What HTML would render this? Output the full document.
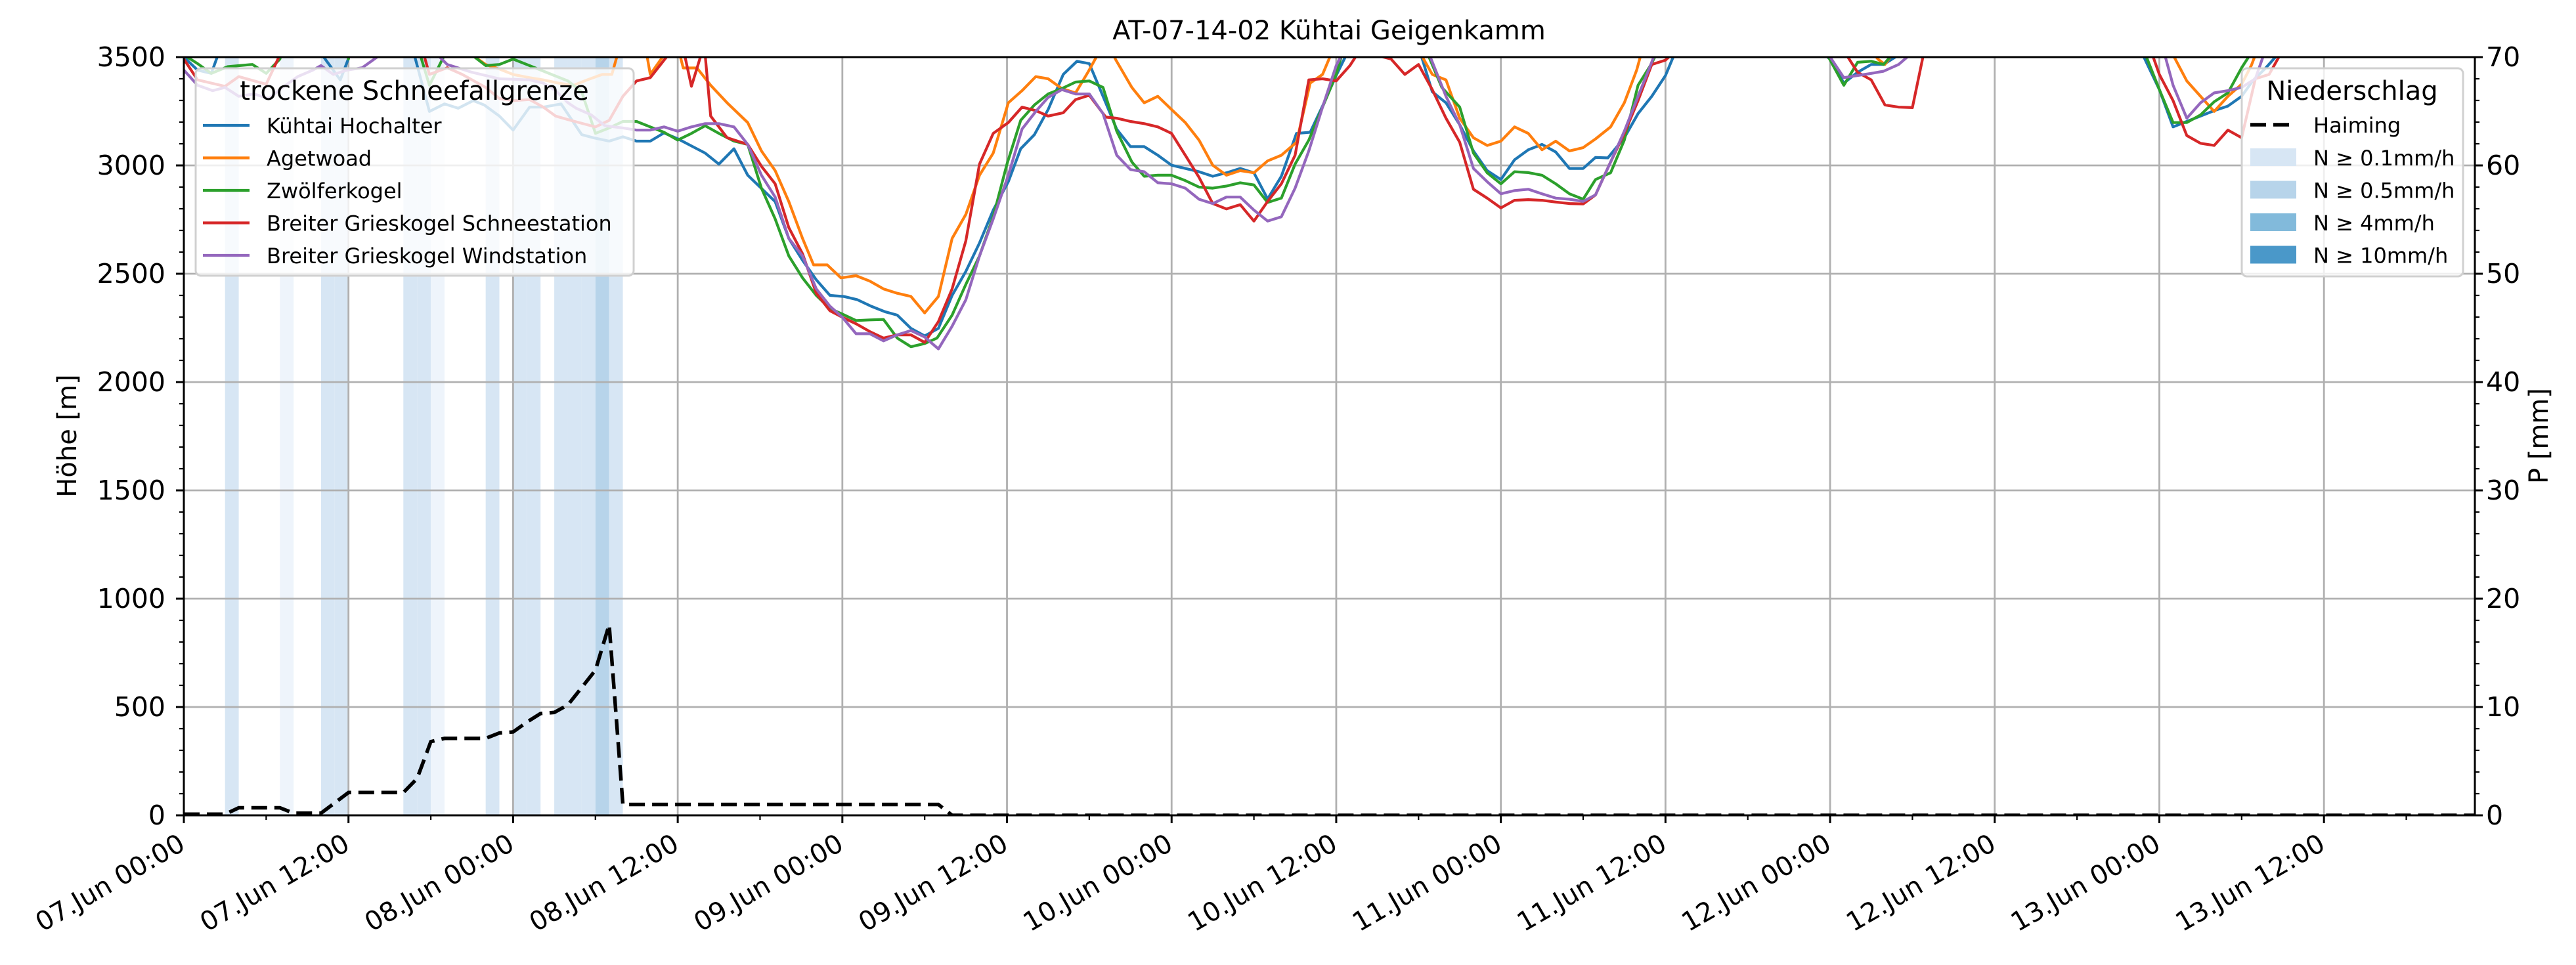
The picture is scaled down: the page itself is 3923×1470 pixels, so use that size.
<!DOCTYPE html>
<html><head><meta charset="utf-8"><style>
html,body{margin:0;padding:0;background:#fff;}
svg{display:block;font-family:"DejaVu Sans","Liberation Sans",sans-serif;}
</style></head><body>
<svg id="chart" width="3923" height="1470" viewBox="0 0 3923 1470" xmlns="http://www.w3.org/2000/svg">
<defs><clipPath id="plotclip"><rect x="280" y="87" width="3489" height="1155"/></clipPath></defs>
<text x="2024" y="60" font-size="40" text-anchor="middle">AT-07-14-02 Kühtai Geigenkamm</text>
<g id="bands" clip-path="url(#plotclip)"></g>
<g id="grid"></g>
<g id="series" clip-path="url(#plotclip)"></g>
<g id="axes"></g>
<g id="legends"></g>
</svg>
<script>
const hourTicks=[0,12,24,36,48,60,72,84,96,108,120,132,144,156];
const hourTickLabels=["07.Jun 00:00","07.Jun 12:00","08.Jun 00:00","08.Jun 12:00","09.Jun 00:00","09.Jun 12:00","10.Jun 00:00","10.Jun 12:00","11.Jun 00:00","11.Jun 12:00","12.Jun 00:00","12.Jun 12:00","13.Jun 00:00","13.Jun 12:00"];
const heightTicks=[0,500,1000,1500,2000,2500,3000,3500];
const precipTicks=[0,10,20,30,40,50,60,70];
const precipHour=[3,7,10,11,16,17,18,22,24,25,27,28,29,30,31];
const precipLevel=[1,0,1,1,1,1,0,1,1,1,1,1,1,2,1];
const kuehtai=[[0,3500],[1,3440],[2,3425],[3,3600],[10.2,3500],[11.4,3395],[12.1,3510],[13,3600],[16.8,3510],[17.9,3249],[19,3284],[20,3264],[21.1,3299],[21.9,3279],[23,3228],[24,3163],[25.2,3269],[26.2,3269],[27.5,3284],[29,3142],[29.9,3127],[31,3112],[32,3132],[33,3112],[34,3112],[35,3150],[36,3123],[37,3090],[38,3057],[39,3006],[40.1,3077],[41.1,2955],[43.1,2833],[44.1,2663],[45.1,2562],[46.1,2472],[47.1,2400],[48.1,2395],[49.1,2380],[50.1,2350],[51.1,2325],[52,2309],[53,2248],[54,2213],[55,2248],[56,2400],[57,2511],[58,2642],[59,2794],[60.1,2925],[61,3077],[62,3142],[63,3258],[64.1,3420],[65.1,3481],[66,3470],[67,3319],[68,3167],[69,3087],[70,3087],[71,3047],[72,3001],[73,2986],[74,2971],[75,2950],[76,2966],[77,2986],[78,2966],[79,2845],[80,2950],[81.1,3148],[82.1,3153],[83,3274],[84,3415],[84.7,3506],[86,3600],[89,3600],[90.2,3506],[91,3340],[92,3289],[93,3188],[94,3067],[95,2976],[96,2935],[97,3026],[98,3072],[99,3097],[100,3062],[101,2986],[102,2986],[102.9,3037],[103.8,3035],[105,3128],[106,3239],[107,3319],[108,3415],[108.6,3506],[110,3600],[118,3600],[120,3490],[121,3380],[122,3430],[123,3466],[123.9,3466],[125,3510],[126,3600],[140,3600],[142.8,3510],[144,3350],[145,3178],[146,3203],[147,3228],[148,3253],[149,3274],[150,3319],[150.8,3390],[151.7,3446],[152.6,3510],[154,3600],[166,3600]];
const agetwoad=[[0,3600],[20,3600],[21,3510],[22,3466],[23,3445],[24,3420],[25.2,3405],[26.2,3395],[27.3,3380],[28.4,3370],[29.4,3395],[30.5,3420],[31.2,3420],[31.6,3510],[32.7,3511],[33.5,3600],[34,3420],[35,3510],[35.8,3600],[36.4,3450],[37.4,3450],[38.4,3370],[39.6,3289],[41.1,3198],[42.1,3067],[43.1,2976],[44.1,2833],[45.1,2663],[45.9,2541],[46.9,2541],[47.9,2481],[49,2491],[50,2466],[51,2430],[52,2410],[53,2395],[54,2319],[55,2395],[56,2663],[57,2774],[58,2955],[59,3057],[60.1,3289],[61.1,3345],[62.1,3410],[63,3400],[64,3355],[65,3335],[65.9,3430],[66.6,3510],[67.2,3600],[67.9,3491],[69.1,3360],[70,3289],[71,3319],[72,3258],[73,3198],[74,3117],[75,3001],[76,2955],[77,2976],[78,2966],[79,3021],[80,3047],[81.1,3107],[82.1,3380],[83,3420],[83.6,3510],[85,3600],[89,3600],[90.2,3510],[91,3420],[92,3395],[93,3218],[94,3128],[95,3092],[96,3112],[97,3178],[98,3148],[99,3072],[100,3112],[101,3067],[102,3082],[102.9,3122],[104,3178],[105,3289],[105.9,3440],[106.2,3510],[107,3600],[122,3600],[123.5,3490],[124,3466],[124.5,3510],[125.5,3600],[144,3600],[145,3510],[146,3390],[147,3319],[148,3249],[149,3319],[150,3375],[150.7,3461],[151,3510],[152,3600],[166,3600]];
const zwoelferkogel=[[0,3510],[1,3470],[2,3425],[3.2,3456],[5,3466],[6,3425],[7,3491],[7.5,3600],[11.5,3600],[12,3491],[12.3,3600],[16.8,3600],[17.9,3370],[19,3510],[20,3600],[21,3510],[22,3461],[23,3466],[24,3491],[25.2,3461],[27,3415],[28,3390],[29,3340],[30,3148],[31,3173],[32,3203],[33,3203],[34,3178],[35,3153],[36,3117],[37,3148],[38,3183],[39,3148],[40.1,3112],[41.1,3097],[42.1,2895],[43.1,2753],[44.1,2582],[45.1,2481],[46.1,2400],[47.1,2339],[48,2314],[49,2284],[50,2287],[51,2289],[52,2203],[53,2163],[54,2178],[54.9,2203],[56,2309],[57,2451],[58,2582],[59,2764],[60,3006],[61,3208],[62,3279],[63,3330],[64,3355],[65,3385],[66,3390],[67,3360],[68,3158],[69.1,3016],[70,2950],[71,2955],[72,2955],[73,2930],[74,2900],[75,2895],[76,2905],[77,2920],[78,2910],[79,2829],[80,2849],[81,3006],[82,3117],[83,3269],[84,3420],[84.4,3510],[85.5,3600],[89.5,3600],[90.7,3510],[91.7,3360],[93,3269],[94,3057],[95,2966],[96,2915],[97,2971],[98,2967],[99,2955],[100,2915],[101,2869],[102,2844],[102.9,2935],[104,2966],[105,3117],[106,3370],[106.9,3461],[107.3,3510],[108.5,3600],[118.5,3600],[119.8,3510],[121,3370],[122,3476],[123,3481],[123.9,3466],[124.5,3510],[125.5,3600],[142,3600],[143,3510],[144,3350],[145,3198],[146,3198],[147,3233],[148,3294],[149,3335],[150,3451],[150.6,3510],[151.5,3600],[166,3600]];
const grieskogelSchnee=[[0,3491],[1,3395],[3,3365],[4,3410],[6,3375],[7,3510],[7.5,3600],[17,3600],[17.5,3510],[17.9,3420],[19.2,3451],[20.3,3420],[22,3360],[23,3309],[24,3299],[25.2,3304],[26.2,3269],[27.1,3228],[28.2,3208],[30,3178],[31,3208],[32,3319],[33,3390],[34,3405],[35.3,3510],[36,3600],[36.5,3510],[37,3365],[37.7,3510],[38,3510],[38.4,3228],[39.6,3128],[41.1,3097],[42.1,2996],[43.1,2915],[44.1,2713],[45.1,2592],[46.1,2410],[47.1,2329],[48,2299],[49,2269],[50,2233],[51,2203],[52,2218],[53,2218],[54,2183],[55,2279],[56,2430],[57,2652],[58,3006],[59,3148],[60.1,3198],[61.1,3269],[62.1,3253],[63,3228],[64.1,3243],[65,3304],[66,3324],[67.2,3223],[68,3218],[69,3203],[70,3193],[71,3178],[72,3148],[73,3047],[74,2945],[75,2824],[76,2799],[77,2819],[78,2743],[79,2834],[80,2915],[81,3047],[82,3395],[83,3400],[84,3390],[85,3461],[85.5,3510],[86.3,3510],[87.1,3506],[88,3491],[89,3420],[90,3466],[91,3350],[92,3218],[93,3107],[94,2890],[95,2849],[96,2804],[97,2839],[98,2842],[99,2839],[100,2831],[101,2824],[102,2822],[102.9,2864],[104,3016],[105,3148],[106,3299],[107,3466],[108,3486],[108.4,3510],[109.5,3600],[120,3600],[121.2,3510],[122,3430],[123,3395],[124,3279],[125,3269],[126,3267],[126.8,3510],[127.5,3600],[142.5,3600],[143.5,3510],[144,3420],[145,3299],[146,3138],[147,3102],[148,3092],[149,3163],[150,3128],[151,3400],[152,3420],[152.8,3510],[153.5,3600],[166,3600]];
const grieskogelWind=[[0,3440],[1,3370],[2.1,3345],[3,3360],[4,3319],[5.1,3330],[6.2,3309],[7.2,3360],[8.3,3410],[9.4,3440],[10,3461],[10.9,3420],[11.9,3440],[13,3451],[14.3,3510],[15,3600],[18,3600],[18.5,3510],[19.2,3466],[21,3430],[23,3400],[25.2,3395],[26.2,3380],[27.1,3345],[28,3289],[28.6,3264],[29.7,3233],[30.7,3183],[32,3173],[33,3163],[34,3163],[35,3178],[36,3158],[37,3178],[38,3193],[39,3193],[40.1,3178],[41.1,3097],[42.1,2955],[43.1,2854],[44.1,2663],[45.1,2582],[46.1,2430],[47.1,2350],[48,2299],[49,2223],[50,2223],[51,2190],[52,2218],[53,2238],[54,2208],[55,2153],[56,2258],[57,2380],[58,2582],[59,2753],[60.1,2955],[61.1,3168],[62.1,3249],[63,3314],[64,3350],[65,3330],[66,3330],[67,3239],[68,3047],[69,2981],[70,2971],[71,2920],[72,2915],[73,2895],[74,2844],[75,2824],[76,2854],[77,2854],[78,2794],[79,2743],[80,2763],[81,2895],[82,3067],[83,3269],[84,3461],[84.4,3510],[85.5,3600],[89.5,3600],[90.8,3510],[92,3319],[93,3188],[94,2986],[95,2925],[96,2869],[97,2884],[98,2890],[99,2869],[100,2849],[101,2844],[102,2834],[102.9,2864],[104,3016],[105,3158],[106,3319],[106.9,3461],[107.2,3510],[108.5,3600],[118.5,3600],[119.9,3510],[121,3405],[122,3415],[123,3425],[123.9,3435],[125,3466],[125.8,3510],[126.5,3600],[143.5,3600],[144.4,3510],[145,3370],[146,3218],[147,3289],[148,3335],[149,3345],[150,3360],[151,3400],[151.6,3510],[152.5,3600],[166,3600]];
const haiming=[[0,0.1],[3,0.1],[4,0.7],[7,0.7],[8,0.2],[10,0.2],[12,2.1],[16,2.1],[17,3.4],[18,6.8],[19,7.1],[22,7.1],[23,7.6],[24,7.7],[25,8.6],[26,9.4],[27,9.5],[28,10.2],[29,11.8],[30,13.4],[31,17.6],[32,1.0],[55,1.0],[56,0],[167,0]];

const NS="http://www.w3.org/2000/svg";
const L=280,R=3769,T=87,B=1242,HMAX=167;
function xS(h){return L+h/HMAX*(R-L);}
function yH(v){return B-v/3500*(B-T);}
function yP(v){return B-v/70*(B-T);}
function mk(tag,attrs,parent){const e=document.createElementNS(NS,tag);for(const k in attrs)e.setAttribute(k,attrs[k]);parent.appendChild(e);return e;}

const bands=document.getElementById('bands');
const bandColors=["#eef4fb","#d7e6f4","#b7d4ea","#82badb","#4a98c9"];
precipHour.forEach((h,i)=>{
  const r=mk('rect',{x:xS(h),y:T,width:xS(h+1)-xS(h),height:B-T,fill:bandColors[precipLevel[i]]},bands);
  
  
});

const grid=document.getElementById('grid');
hourTicks.forEach(h=>{if(h>0){const l=mk('line',{x1:xS(h),x2:xS(h),y1:T,y2:B,stroke:"#b0b0b0","stroke-width":2.8},grid);

}});
heightTicks.forEach(v=>{if(v>0&&v<3500){const l=mk('line',{x1:L,x2:R,y1:yH(v),y2:yH(v),stroke:"#b0b0b0","stroke-width":2.8},grid);

}});

const series=document.getElementById('series');
const seriesList=[[kuehtai,"#1f77b4","line-kuehtai-hochalter"],[agetwoad,"#ff7f0e","line-agetwoad"],[zwoelferkogel,"#2ca02c","line-zwoelferkogel"],[grieskogelSchnee,"#d62728","line-grieskogel-schneestation"],[grieskogelWind,"#9467bd","line-grieskogel-windstation"]];
seriesList.forEach(s=>{
  const pts=s[0].map(p=>xS(p[0]).toFixed(1)+","+yH(p[1]).toFixed(1)).join(" ");
  const pl=mk('polyline',{points:pts,fill:"none",stroke:s[1],"stroke-width":4.2,"stroke-linejoin":"round"},series);
  
  
});
const hp=haiming.map(p=>xS(p[0]).toFixed(1)+","+yP(p[1]).toFixed(1)).join(" ");
const hl=mk('polyline',{points:hp,fill:"none",stroke:"#000","stroke-width":5.5,"stroke-dasharray":"24 11"},series);



const axes=document.getElementById('axes');
mk('rect',{x:L,y:T,width:R-L,height:B-T,fill:"none",stroke:"#000","stroke-width":3},axes);
for(let h=0;h<=HMAX;h+=6){const major=h%12===0;mk('line',{x1:xS(h),x2:xS(h),y1:B,y2:B+(major?12:7),stroke:"#000","stroke-width":major?3:2.2},axes);}
hourTicks.forEach((h,i)=>{
  const x=xS(h)-10,y=1268;
  const t=mk('text',{x:x,y:y,"font-size":40,"text-anchor":"end","dominant-baseline":"hanging",transform:`rotate(-30 ${x} ${y})`},axes);
  t.textContent=hourTickLabels[i];
  
  
});
for(let v=0;v<=3500;v+=100){const major=v%500===0;mk('line',{x1:L,x2:L-(major?12:7),y1:yH(v),y2:yH(v),stroke:"#000","stroke-width":major?3:2.2},axes);}
heightTicks.forEach(v=>{const t=mk('text',{x:252,y:yH(v)+14,"font-size":41,"text-anchor":"end"},axes);t.textContent=v;

});
for(let v=0;v<=70;v+=2){const major=v%10===0;mk('line',{x1:R,x2:R+(major?12:7),y1:yP(v),y2:yP(v),stroke:"#000","stroke-width":major?3:2.2},axes);}
precipTicks.forEach(v=>{const t=mk('text',{x:3786,y:yP(v)+14,"font-size":41,"text-anchor":"start"},axes);t.textContent=v;

});
const yl=mk('text',{x:116,y:664,"font-size":40,"text-anchor":"middle",transform:"rotate(-90 116 664)"},axes);yl.textContent="Höhe [m]";


const yr=mk('text',{x:3880,y:664,"font-size":40,"text-anchor":"middle",transform:"rotate(-90 3880 664)"},axes);yr.textContent="P [mm]";



const lg=document.getElementById('legends');
const lb=mk('rect',{x:298,y:104,width:667,height:316,rx:8,fill:"#fff","fill-opacity":0.8,stroke:"#d0d0d0","stroke-width":3},lg);


const lt=mk('text',{x:631,y:152,"font-size":40,"text-anchor":"middle"},lg);lt.textContent="trockene Schneefallgrenze";


const names=["Kühtai Hochalter","Agetwoad","Zwölferkogel","Breiter Grieskogel Schneestation","Breiter Grieskogel Windstation"];
seriesList.forEach((s,i)=>{const y=191+i*49.5;
  mk('line',{x1:309,x2:380,y1:y,y2:y,stroke:s[1],"stroke-width":4.2},lg);
  const t=mk('text',{x:406,y:y+12,"font-size":32},lg);t.textContent=names[i];
  
  
});
const rb=mk('rect',{x:3414,y:104,width:337,height:317,rx:8,fill:"#fff","fill-opacity":0.8,stroke:"#d0d0d0","stroke-width":3},lg);


const rt=mk('text',{x:3582,y:152,"font-size":40,"text-anchor":"middle"},lg);rt.textContent="Niederschlag";


mk('line',{x1:3427,x2:3486,y1:190,y2:190,stroke:"#000","stroke-width":5.5,"stroke-dasharray":"24 11"},lg);
const ht=mk('text',{x:3523,y:202,"font-size":32},lg);ht.textContent="Haiming";


const plabels=["N ≥ 0.1mm/h","N ≥ 0.5mm/h","N ≥ 4mm/h","N ≥ 10mm/h"];
plabels.forEach((p,i)=>{const y=226+i*49.5;
  mk('rect',{x:3427,y:y,width:70,height:27,fill:bandColors[i+1]},lg);
  const t=mk('text',{x:3523,y:y+26,"font-size":32},lg);t.textContent=p;
  
  
});
</script>
</body></html>
